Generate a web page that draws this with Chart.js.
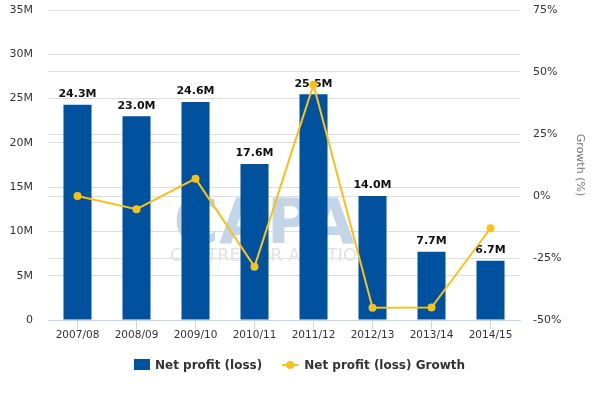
<!DOCTYPE html>
<html>
<head>
<meta charset="utf-8">
<script src="https://cdn.jsdelivr.net/npm/chart.js@4"></script>
<style>
html,body{margin:0;padding:0;background:#fff;}
#wrap{width:599px;height:398px;position:relative;}
</style>
</head>
<body>
<div id="wrap"><canvas id="c" width="599" height="398"></canvas></div>
<script>
const categories = ['2007/08','2008/09','2009/10','2010/11','2011/12','2012/13','2013/14','2014/15'];
const netProfit = [24.3, 23.0, 24.6, 17.6, 25.5, 14.0, 7.7, 6.7]; // millions
const growth = [0, -5.3, 7.0, -28.5, 44.9, -45.1, -45.0, -13.0]; // percent
const leftTicks = [0, 5, 10, 15, 20, 25, 30, 35];
const rightTicks = [-50, -25, 0, 25, 50, 75];
const seriesNames = ['Net profit (loss)', 'Net profit (loss) Growth'];

const FONT = "'DejaVu Sans', Verdana, sans-serif";
const BLUE = '#00519e';
const YELLOW = '#f8c11a';

const watermark = {
  id: 'watermark',
  beforeDatasetsDraw(chart) {
    const ctx = chart.ctx;
    ctx.save();
    ctx.textAlign = 'center';
    ctx.textBaseline = 'alphabetic';
    ctx.fillStyle = '#c4d5e8';
    ctx.font = "bold 62px " + FONT;
    ctx.fillText('CAPA', 264, 243, 186);
    ctx.fillStyle = '#e2e2e2';
    ctx.font = "18px " + FONT;
    ctx.fillText('CENTRE FOR AVIATION', 270, 261, 200);
    ctx.restore();
  }
};

const barLabels = {
  id: 'barLabels',
  afterDatasetDraw(chart, args) {
    if (args.index !== 0) return;
    const ctx = chart.ctx;
    const meta = args.meta;
    ctx.save();
    ctx.font = "bold 11px " + FONT;
    ctx.fillStyle = '#111';
    ctx.textAlign = 'center';
    ctx.textBaseline = 'bottom';
    meta.data.forEach((el, i) => {
      ctx.fillText(netProfit[i].toFixed(1) + 'M', el.x, el.y - 5);
    });
    ctx.restore();
  }
};

const customLegend = {
  id: 'customLegend',
  afterDraw(chart) {
    const ctx = chart.ctx;
    ctx.save();
    ctx.font = "bold 12px " + FONT;
    const w1 = ctx.measureText(seriesNames[0]).width;
    const w2 = ctx.measureText(seriesNames[1]).width;
    const total = 16 + 5 + w1 + 20 + 16 + 6 + w2;
    let x = (chart.width - total) / 2;
    const cy = 365;
    ctx.fillStyle = BLUE;
    ctx.fillRect(x, cy - 6, 16, 11);
    x += 16 + 5;
    ctx.fillStyle = '#333';
    ctx.textBaseline = 'middle';
    ctx.textAlign = 'left';
    ctx.fillText(seriesNames[0], x, cy + 1);
    x += w1 + 20;
    ctx.strokeStyle = YELLOW;
    ctx.lineWidth = 2;
    ctx.beginPath();
    ctx.moveTo(x, cy);
    ctx.lineTo(x + 16, cy);
    ctx.stroke();
    ctx.fillStyle = YELLOW;
    ctx.beginPath();
    ctx.arc(x + 8, cy, 4, 0, Math.PI * 2);
    ctx.fill();
    x += 16 + 6;
    ctx.fillStyle = '#333';
    ctx.fillText(seriesNames[1], x, cy + 1);
    ctx.restore();
  }
};

new Chart(document.getElementById('c'), {
  data: {
    labels: categories,
    datasets: [
      {
        type: 'bar',
        label: seriesNames[0],
        data: netProfit.map(v => v * 1e6),
        backgroundColor: BLUE,
        borderWidth: 0,
        yAxisID: 'y',
        categoryPercentage: 1,
        barPercentage: 0.475,
        order: 1
      },
      {
        type: 'line',
        label: seriesNames[1],
        data: growth,
        borderColor: YELLOW,
        backgroundColor: YELLOW,
        borderWidth: 2,
        pointRadius: 4,
        pointBackgroundColor: YELLOW,
        pointBorderWidth: 0,
        tension: 0,
        yAxisID: 'y1',
        order: 0
      }
    ]
  },
  options: {
    responsive: false,
    animation: false,
    devicePixelRatio: 1,
    layout: { padding: { top: 10, left: 0, right: 0, bottom: 0 } },
    plugins: {
      legend: { display: false },
      tooltip: { enabled: false }
    },
    scales: {
      x: {
        type: 'category',
        offset: true,
        grid: { offset: false, drawOnChartArea: false, drawTicks: true, tickLength: 9, color: '#c6d5e6' },
        border: { display: true, color: '#c6d5e6', width: 1 },
        ticks: { padding: 0, color: '#333', font: { family: FONT, size: 10.5 }, maxRotation: 0 },
        afterFit(s) { s.height = 78; s.paddingLeft = 0; s.paddingRight = 0; }
      },
      y: {
        position: 'left',
        min: 0, max: 35e6,
        afterBuildTicks(s) { s.ticks = leftTicks.map(v => ({ value: v * 1e6 })); },
        grid: { color: '#dddddd', drawTicks: false },
        border: { display: false },
        ticks: {
          padding: 15, color: '#333', font: { family: FONT, size: 11 },
          callback: v => v === 0 ? '0' : (v / 1e6) + 'M'
        },
        afterFit(s) { s.width = 48; s.paddingTop = 0; s.paddingBottom = 0; }
      },
      y1: {
        position: 'right',
        min: -50, max: 75,
        afterBuildTicks(s) { s.ticks = rightTicks.map(v => ({ value: v })); },
        grid: { color: '#dddddd', drawTicks: false },
        border: { display: false },
        ticks: {
          padding: 13, color: '#333', font: { family: FONT, size: 11 },
          callback: v => v + '%'
        },
        title: {
          display: true, text: 'Growth (%)', color: '#777',
          font: { family: FONT, size: 11 }, padding: { top: 13, bottom: 0 }
        },
        afterFit(s) { s.width = 79; s.paddingTop = 0; s.paddingBottom = 0; }
      }
    }
  },
  plugins: [watermark, barLabels, customLegend]
});
</script>
</body>
</html>
